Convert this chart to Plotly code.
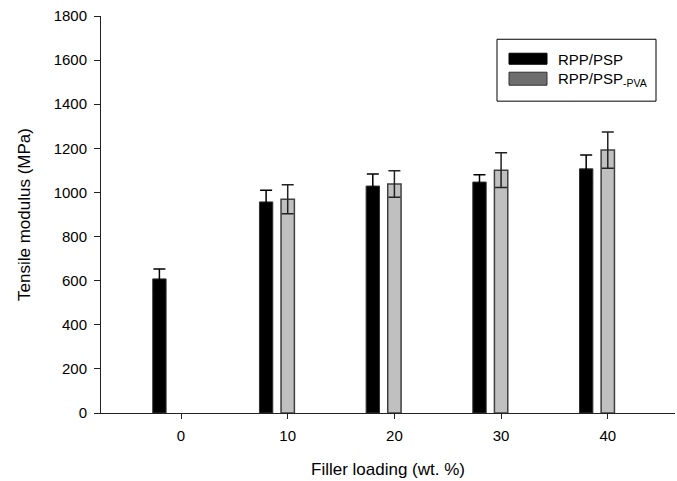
import plotly.graph_objects as go

# Data
loading = [0, 10, 20, 30, 40]
rpp_psp = [608, 957, 1029, 1047, 1107]
rpp_psp_err = [45, 53, 55, 33, 63]

loading_pva = [10, 20, 30, 40]
rpp_psp_pva = [969, 1038, 1101, 1192]
rpp_psp_pva_err = [66, 60, 79, 82]

x_ticks = [0, 10, 20, 30, 40]
y_ticks = [0, 200, 400, 600, 800, 1000, 1200, 1400, 1600, 1800]

FONT = "Liberation Sans, Arial, sans-serif"

fig = go.Figure()
fig.add_trace(go.Bar(
    x=loading, y=rpp_psp, width=1.25, offset=-2.65,
    marker=dict(color="#000000", line=dict(color="#303030", width=1)),
    error_y=dict(type="data", array=rpp_psp_err, visible=True,
                 color="#000000", thickness=1.5, width=6),
    name="RPP/PSP", showlegend=False,
))
fig.add_trace(go.Bar(
    x=loading_pva, y=rpp_psp_pva, width=1.25, offset=-0.625,
    marker=dict(color="#c0c0c0", line=dict(color="#404040", width=1.5)),
    error_y=dict(type="data", array=rpp_psp_pva_err, visible=True,
                 color="#222222", thickness=1.5, width=6),
    name="RPP/PSP-PVA", showlegend=False,
))

# Custom legend box
fig.add_shape(type="rect", xref="paper", yref="paper",
              x0=(497 - 101) / 574, x1=(656 - 101) / 574,
              y0=(413.3 - 101) / 397.6, y1=(413.3 - 39) / 397.6,
              line=dict(color="#000000", width=1), fillcolor="white", layer="above")
fig.add_shape(type="rect", xref="paper", yref="paper",
              x0=(509 - 101) / 574, x1=(547 - 101) / 574,
              y0=(413.3 - 64) / 397.6, y1=(413.3 - 53) / 397.6,
              line=dict(color="#000000", width=1), fillcolor="#000000", layer="above")
fig.add_shape(type="rect", xref="paper", yref="paper",
              x0=(509 - 101) / 574, x1=(547 - 101) / 574,
              y0=(413.3 - 85) / 397.6, y1=(413.3 - 72) / 397.6,
              line=dict(color="#303030", width=1), fillcolor="#6e6e6e", layer="above")
fig.add_annotation(xref="paper", yref="paper", x=(556 - 101) / 574, y=(413.3 - 59) / 397.6,
                   xanchor="left", yanchor="middle", showarrow=False,
                   text="RPP/PSP", font=dict(family=FONT, size=15, color="#000"))
fig.add_annotation(xref="paper", yref="paper", x=(556 - 101) / 574, y=(413.3 - 79) / 397.6,
                   xanchor="left", yanchor="middle", showarrow=False,
                   text="RPP/PSP<sub>-PVA</sub>", font=dict(family=FONT, size=15, color="#000"))

fig.update_layout(
    width=677, height=481,
    margin=dict(l=101, r=2, t=16, b=68),
    paper_bgcolor="white", plot_bgcolor="white",
    barmode="overlay",
    font=dict(family=FONT, size=15, color="#000"),
    showlegend=False,
)
fig.update_xaxes(
    range=[-7.5, 46.3], tickvals=x_ticks, ticktext=[str(v) for v in x_ticks],
    showgrid=False, zeroline=False, showline=True, linecolor="#222", linewidth=1,
    ticks="outside", ticklen=5, tickcolor="#222", ticklabelstandoff=4,
    tickfont=dict(family=FONT, size=15),
    title=dict(text="Filler loading (wt. %)", font=dict(family=FONT, size=17), standoff=20),
)
fig.update_yaxes(
    range=[0, 1800], tickvals=y_ticks,
    showgrid=False, zeroline=False, showline=True, linecolor="#222", linewidth=1,
    ticks="outside", ticklen=6, tickcolor="#222", ticklabelstandoff=4,
    tickfont=dict(family=FONT, size=15),
    title=dict(text="Tensile modulus (MPa)", font=dict(family=FONT, size=17), standoff=18),
)

fig.write_html("out.html")
